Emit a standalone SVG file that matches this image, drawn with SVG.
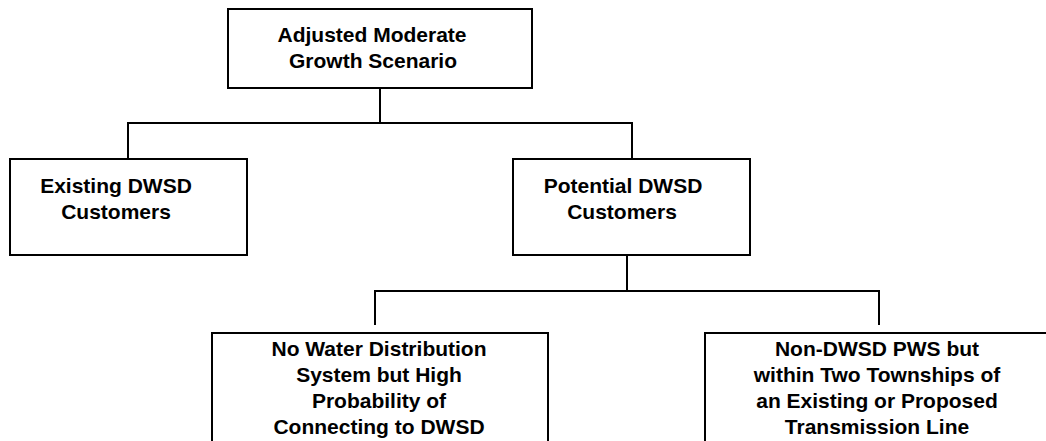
<svg xmlns="http://www.w3.org/2000/svg" width="1046" height="441" viewBox="0 0 1046 441">
<style>
.box{fill:#fff;stroke:#000;stroke-width:2}
.ln{fill:none;stroke:#000;stroke-width:2}
.t{font-family:"Liberation Sans",Arial,sans-serif;font-weight:bold;font-size:21px;fill:#000;text-anchor:middle}
</style>
<rect width="1046" height="441" fill="#fff"/>
<g id="connectors">
<polyline class="ln" points="380,88 380,123"/>
<polyline class="ln" points="128,159 128,123 632,123 632,159"/>
<polyline class="ln" points="627,255 627,291"/>
<polyline class="ln" points="375,325 375,291 879,291 879,325"/>
</g>
<g id="root">
<rect class="box" x="228" y="9" width="304" height="79"/>
<text class="t" x="372" y="42">Adjusted Moderate</text>
<text class="t" x="373" y="68">Growth Scenario</text>
</g>
<g id="existing">
<rect class="box" x="10" y="159" width="237" height="96"/>
<text class="t" x="116" y="193">Existing DWSD</text>
<text class="t" x="116" y="219">Customers</text>
</g>
<g id="potential">
<rect class="box" x="513" y="159" width="237" height="96"/>
<text class="t" x="623" y="193">Potential DWSD</text>
<text class="t" x="622" y="219">Customers</text>
</g>
<g id="no-water">
<rect class="box" x="212" y="333" width="336" height="120"/>
<text class="t" x="379" y="356">No Water Distribution</text>
<text class="t" x="379" y="382">System but High</text>
<text class="t" x="379" y="408">Probability of</text>
<text class="t" x="379" y="434">Connecting to DWSD</text>
</g>
<g id="non-dwsd">
<rect class="box" x="705" y="333" width="360" height="120"/>
<text class="t" x="877" y="356">Non-DWSD PWS but</text>
<text class="t" x="877" y="382">within Two Townships of</text>
<text class="t" x="877" y="408">an Existing or Proposed</text>
<text class="t" x="877" y="434">Transmission Line</text>
</g>
</svg>
